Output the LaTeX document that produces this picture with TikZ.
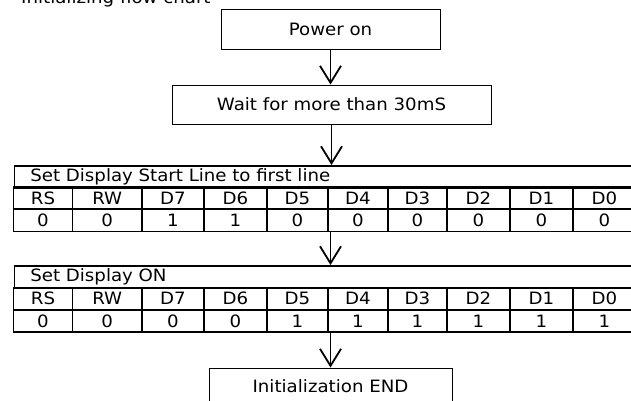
\documentclass[tikz,border=0pt]{standalone}
\usepackage{fontspec}
\setmainfont{DejaVu Sans}[FakeStretch=1.07]
\usetikzlibrary{arrows.meta}

\tikzset{
  flowbox/.style={draw, line width=0.9pt, inner sep=0pt, font=\fontsize{17}{19}\selectfont},
  tabtitle/.style={draw, line width=1.8pt, inner xsep=16pt, inner ysep=0pt, minimum height=22pt,
    text width=590.5pt, align=left, anchor=north west, font=\fontsize{17}{19}\selectfont},
  tabcell/.style={draw, line width=1.8pt, inner sep=0pt, minimum height=22pt, font=\fontsize{17}{19}\selectfont},
  flowarrow/.style={-{Straight Barb[length=17pt,width=21pt,line width=1.8pt]}, line width=1.8pt}
}

\begin{document}
\begin{tikzpicture}[x=1pt, y=-1pt]
\useasboundingbox (0,0) rectangle (631,401);
\clip (0,0) rectangle (631,401);
\node[anchor=base west, font=\fontsize{17}{19}\selectfont, inner sep=0pt] (chartname) at (21,4) {Initializing flow chart};
% flow boxes
\node[flowbox, minimum width=219pt, minimum height=39.5pt] (pwron) at (330.5,29.25) {Power on};
\node[flowbox, minimum width=319pt, minimum height=39pt] (waitbox) at (331.5,104.5) {Wait for more than 30mS};
% table 1
\node[tabtitle] (tone) at (13.5,165) {Set Display Start Line to first line};
\node[tabcell, minimum width=59pt] (tonrs) at (43,198) {RS};
\node[tabcell, minimum width=69.5pt] (tonrw) at (107.25,198) {RW};
\node[tabcell, minimum width=62pt] (tondh) at (173,198) {D7};
\node[tabcell, minimum width=63pt] (tondg) at (235.5,198) {D6};
\node[tabcell, minimum width=61pt] (tondf) at (297.5,198) {D5};
\node[tabcell, minimum width=60pt] (tonde) at (358,198) {D4};
\node[tabcell, minimum width=59pt] (tondd) at (417.5,198) {D3};
\node[tabcell, minimum width=63pt] (tondc) at (478.5,198) {D2};
\node[tabcell, minimum width=63pt] (tondb) at (541.5,198) {D1};
\node[tabcell, minimum width=63pt] (tonda) at (604.5,198) {D0};
\node[tabcell, minimum width=59pt] (tovrs) at (43,220.5) {0};
\node[tabcell, minimum width=69.5pt] (tovrw) at (107.25,220.5) {0};
\node[tabcell, minimum width=62pt] (tovdh) at (173,220.5) {1};
\node[tabcell, minimum width=63pt] (tovdg) at (235.5,220.5) {1};
\node[tabcell, minimum width=61pt] (tovdf) at (297.5,220.5) {0};
\node[tabcell, minimum width=60pt] (tovde) at (358,220.5) {0};
\node[tabcell, minimum width=59pt] (tovdd) at (417.5,220.5) {0};
\node[tabcell, minimum width=63pt] (tovdc) at (478.5,220.5) {0};
\node[tabcell, minimum width=63pt] (tovdb) at (541.5,220.5) {0};
\node[tabcell, minimum width=63pt] (tovda) at (604.5,220.5) {0};
% table 2
\node[tabtitle] (ttwo) at (13.5,265) {Set Display ON};
\node[tabcell, minimum width=59pt] (ttnrs) at (43,298.5) {RS};
\node[tabcell, minimum width=69.5pt] (ttnrw) at (107.25,298.5) {RW};
\node[tabcell, minimum width=62pt] (ttndh) at (173,298.5) {D7};
\node[tabcell, minimum width=63pt] (ttndg) at (235.5,298.5) {D6};
\node[tabcell, minimum width=61pt] (ttndf) at (297.5,298.5) {D5};
\node[tabcell, minimum width=60pt] (ttnde) at (358,298.5) {D4};
\node[tabcell, minimum width=59pt] (ttndd) at (417.5,298.5) {D3};
\node[tabcell, minimum width=63pt] (ttndc) at (478.5,298.5) {D2};
\node[tabcell, minimum width=63pt] (ttndb) at (541.5,298.5) {D1};
\node[tabcell, minimum width=63pt] (ttnda) at (604.5,298.5) {D0};
\node[tabcell, minimum width=59pt] (ttvrs) at (43,321) {0};
\node[tabcell, minimum width=69.5pt] (ttvrw) at (107.25,321) {0};
\node[tabcell, minimum width=62pt] (ttvdh) at (173,321) {0};
\node[tabcell, minimum width=63pt] (ttvdg) at (235.5,321) {0};
\node[tabcell, minimum width=61pt] (ttvdf) at (297.5,321) {1};
\node[tabcell, minimum width=60pt] (ttvde) at (358,321) {1};
\node[tabcell, minimum width=59pt] (ttvdd) at (417.5,321) {1};
\node[tabcell, minimum width=63pt] (ttvdc) at (478.5,321) {1};
\node[tabcell, minimum width=63pt] (ttvdb) at (541.5,321) {1};
\node[tabcell, minimum width=63pt] (ttvda) at (604.5,321) {1};
% end box
\node[flowbox, minimum width=243pt, minimum height=44pt] (initend) at (330.5,390) {\raisebox{7pt}{Initialization END}};
% arrows
\draw[flowarrow] (pwron.south) -- (pwron.south |- waitbox.north);
\draw[flowarrow] (waitbox.south) -- (waitbox.south |- tone.north);
\draw[flowarrow] (pwron.south |- tovde.south) -- (pwron.south |- ttwo.north);
\draw[flowarrow] (pwron.south |- ttvde.south) -- (pwron.south |- initend.north);
\end{tikzpicture}
\end{document}
